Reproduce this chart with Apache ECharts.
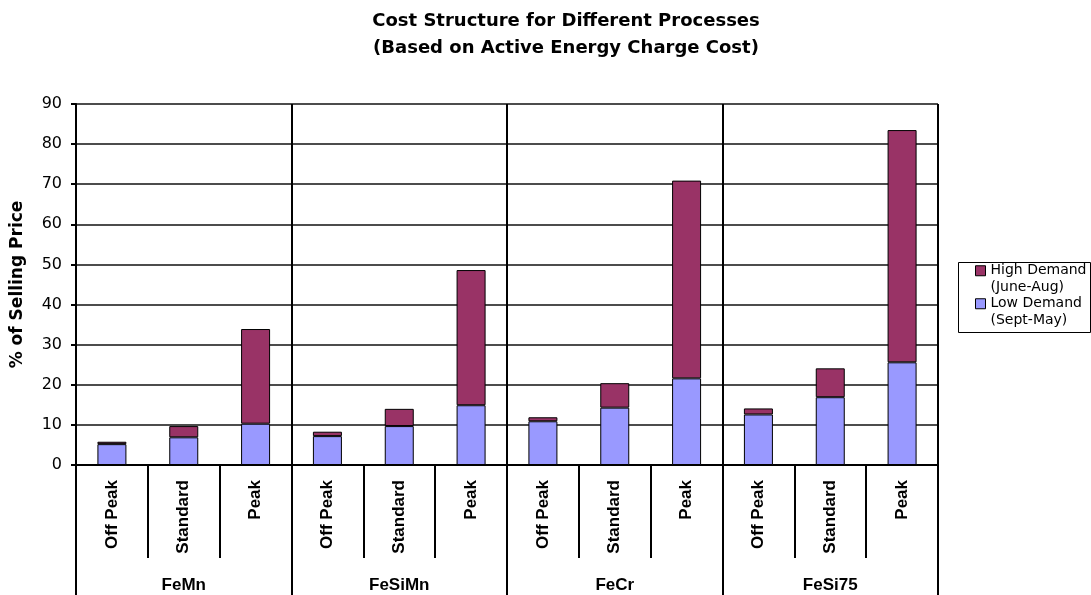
<!DOCTYPE html>
<html>
<head>
<meta charset="utf-8">
<script src="https://cdn.jsdelivr.net/npm/echarts@6/dist/echarts.min.js"></script>
<style>
  html, body { margin: 0; padding: 0; background: #fff; }
  #chart { width: 1091px; height: 595px; }
</style>
</head>
<body>
<div id="chart"></div>
<script>
// data
var groups = ["FeMn", "FeSiMn", "FeCr", "FeSi75"];
var periods = ["Off Peak", "Standard", "Peak"];
var lowDemand = [5.2, 6.9, 10.3, 7.2, 9.7, 14.9, 10.9, 14.3, 21.6, 12.6, 16.9, 25.6];
var highDemand = [0.6, 2.8, 23.6, 1.1, 4.3, 33.7, 1.0, 6.1, 49.3, 1.5, 7.2, 57.9];
var yTicks = [0, 10, 20, 30, 40, 50, 60, 70, 80, 90];

var lowName = "Low Demand\n(Sept-May)";
var highName = "High Demand\n(June-Aug)";

// one category per bar: periods repeated for each group
var categories = [];
groups.forEach(function () {
  periods.forEach(function (p) { categories.push(p); });
});

var wide = "'DejaVu Sans', Verdana, sans-serif";
var arial = "'Liberation Sans', Arial, sans-serif";

var option = {
  animation: false,
  backgroundColor: "#fff",
  title: {
    text: "Cost Structure for Different Processes\n(Based on Active Energy Charge Cost)",
    left: 561,
    top: 3,
    textAlign: "center",
    textStyle: {
      fontFamily: wide,
      fontSize: 18,
      fontWeight: "bold",
      color: "#000",
      lineHeight: 27
    }
  },
  // legend frame
  graphic: [
    {
      type: "rect",
      left: 958,
      top: 262,
      shape: { width: 132, height: 70 },
      style: { fill: "#fff", stroke: "#000", lineWidth: 1 },
      z: 0
    }
  ],
  legend: {
    orient: "vertical",
    left: 975,
    top: 246,
    padding: 0,
    itemWidth: 10,
    itemHeight: 10,
    itemGap: -16.5,
    icon: "rect",
    z: 5,
    data: [highName, lowName],
    // blank first line so the marker sits next to the first text line
    formatter: function (name) { return " \n" + name; },
    itemStyle: { borderColor: "#000", borderWidth: 1 },
    textStyle: {
      fontFamily: wide,
      fontSize: 14,
      color: "#000",
      lineHeight: 16.5
    }
  },
  grid: { left: 76, right: 153, top: 104, bottom: 130 },
  xAxis: [
    {
      type: "category",
      data: categories,
      position: "bottom",
      axisLine: { lineStyle: { color: "#000", width: 2 } },
      axisTick: { show: true, interval: 0, length: 93, lineStyle: { color: "#000", width: 2 } },
      axisLabel: {
        interval: 0,
        rotate: 90,
        margin: 15,
        fontFamily: arial,
        fontSize: 17,
        fontWeight: "bold",
        color: "#000"
      },
      splitLine: { show: false }
    },
    {
      type: "category",
      data: groups,
      position: "bottom",
      axisLine: { show: false },
      axisTick: { show: true, interval: 0, length: 130, lineStyle: { color: "#000", width: 2 } },
      axisLabel: {
        interval: 0,
        margin: 112,
        fontFamily: arial,
        fontSize: 17,
        fontWeight: "bold",
        color: "#000"
      },
      splitLine: { show: true, interval: 0, lineStyle: { color: "#000", width: 2 } }
    }
  ],
  yAxis: {
    type: "value",
    min: yTicks[0],
    max: yTicks[yTicks.length - 1],
    interval: 10,
    name: "% of Selling Price",
    nameLocation: "middle",
    nameRotate: 90,
    nameGap: 50,
    nameTextStyle: {
      fontFamily: wide,
      fontSize: 17,
      fontWeight: "bold",
      color: "#000"
    },
    axisLine: { show: true, lineStyle: { color: "#000", width: 2 } },
    axisTick: { show: true, length: 5, lineStyle: { color: "#000", width: 2 } },
    axisLabel: {
      margin: 14,
      fontFamily: wide,
      fontSize: 16,
      color: "#000"
    },
    splitLine: { show: true, lineStyle: { color: "#111", width: 1.5 } }
  },
  series: [
    {
      name: lowName,
      type: "bar",
      stack: "cost",
      xAxisIndex: 0,
      barWidth: 29,
      data: lowDemand,
      itemStyle: { color: "#9999FF", borderColor: "#000", borderWidth: 1 }
    },
    {
      name: highName,
      type: "bar",
      stack: "cost",
      xAxisIndex: 0,
      barWidth: 29,
      data: highDemand,
      itemStyle: { color: "#993366", borderColor: "#000", borderWidth: 1 }
    }
  ]
};

var chart = echarts.init(document.getElementById("chart"), null, { renderer: "canvas" });
chart.setOption(option);
</script>
</body>
</html>
